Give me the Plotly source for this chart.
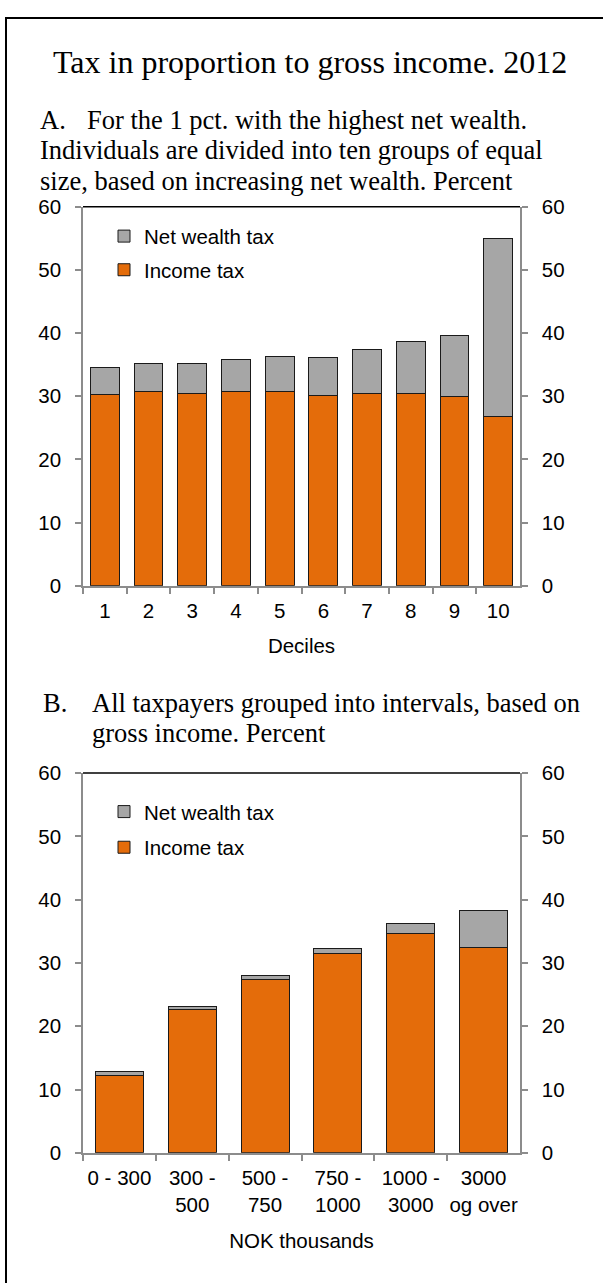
import plotly.graph_objects as go

# ---------------- data ----------------
deciles = ["1", "2", "3", "4", "5", "6", "7", "8", "9", "10"]
income_tax_a = [30.3, 30.8, 30.5, 30.7, 30.8, 30.1, 30.5, 30.5, 29.9, 26.8]
wealth_tax_a = [4.2, 4.4, 4.7, 5.1, 5.5, 6.1, 6.9, 8.1, 9.7, 28.2]

intervals = ["0 - 300", "300 -<br>500", "500 -<br>750", "750 -<br>1000",
             "1000 -<br>3000", "3000<br>og over"]
income_tax_b = [12.2, 22.6, 27.4, 31.5, 34.6, 32.5]
wealth_tax_b = [0.6, 0.5, 0.6, 0.8, 1.7, 5.8]

yticks = [0, 10, 20, 30, 40, 50, 60]

# ---------------- styling ----------------
W, H = 603, 1283
ORANGE = "#E46C0A"
GREY = "#A6A6A6"
AXIS = "#8C8C8C"
SANS = "Liberation Sans"
SERIF = "Liberation Serif"
FS = 20.5


def px(x):
    return x / W


def py(y):
    return 1 - y / H


xdom = [px(83), px(520)]
ydom_a = [py(584.3), py(198.3)]
ydom_b = [py(1161.7), py(775)]

fig = go.Figure()

bar_line = dict(color="#1a1a1a", width=1)

fig.add_trace(go.Bar(x=deciles, y=income_tax_a, name="Income tax",
                     marker=dict(color=ORANGE, line=bar_line), legendrank=2,
                     xaxis="x", yaxis="y", legend="legend", legendgroup="inc"))
fig.add_trace(go.Bar(x=deciles, y=wealth_tax_a, name="Net wealth tax",
                     marker=dict(color=GREY, line=bar_line), legendrank=1,
                     xaxis="x", yaxis="y", legend="legend", legendgroup="nw"))
fig.add_trace(go.Bar(x=intervals, y=income_tax_b, name="Income tax",
                     marker=dict(color=ORANGE, line=bar_line), legendrank=2,
                     xaxis="x2", yaxis="y3", legend="legend2", legendgroup="inc"))
fig.add_trace(go.Bar(x=intervals, y=wealth_tax_b, name="Net wealth tax",
                     marker=dict(color=GREY, line=bar_line), legendrank=1,
                     xaxis="x2", yaxis="y3", legend="legend2", legendgroup="nw"))

tickfont = dict(family=SANS, size=FS, color="black")


def xax(anchor, title, ncat, standoff):
    return dict(domain=xdom, anchor=anchor, type="category", tickson="boundaries",
                ticks="outside", ticklen=6, tickwidth=1.5, tickcolor=AXIS,
                showline=True, linecolor=AXIS, linewidth=1.5, showgrid=False,
                zeroline=False, tickfont=tickfont, range=[-0.5, ncat - 0.5],
                ticklabelstandoff=6, tickangle=0,
                title=dict(text=title, font=dict(family=SANS, size=FS, color="black"),
                           standoff=standoff))


def yax(dom, anchor, side="left", overlaying=None):
    d = dict(domain=dom, anchor=anchor, range=[0, 60], tickvals=yticks,
             ticks="outside", ticklen=6, tickwidth=1.5, tickcolor=AXIS,
             showline=True, linecolor=AXIS, linewidth=1.5, showgrid=False,
             zeroline=False, tickfont=tickfont, side=side, ticklabelstandoff=10)
    if overlaying:
        d["overlaying"] = overlaying
    return d


legend_common = dict(bgcolor="rgba(0,0,0,0)", borderwidth=0,
                     font=dict(family=SANS, size=FS, color="black"),
                     traceorder="grouped",
                     xanchor="left", yanchor="top", itemwidth=30)

fig.update_layout(
    width=W, height=H, autosize=False,
    margin=dict(l=0, r=0, t=0, b=0),
    paper_bgcolor="white", plot_bgcolor="white",
    font=dict(family=SANS, size=FS, color="black"),
    barmode="stack", bargap=0.34,
    xaxis=xax("y", "Deciles", len(deciles), 17),
    xaxis2=xax("y3", "NOK thousands", len(intervals), 19),
    yaxis=yax(ydom_a, "x"),
    yaxis2=yax(ydom_a, "x", "right", "y"),
    yaxis3=yax(ydom_b, "x2"),
    yaxis4=yax(ydom_b, "x2", "right", "y3"),
    legend=dict(x=px(104), y=py(208), tracegroupgap=4, **legend_common),
    legend2=dict(x=px(104), y=py(794), tracegroupgap=6, **legend_common),
    showlegend=True,
)

# invisible traces so the right-hand axes are drawn
fig.add_trace(go.Scatter(x=[deciles[0]], y=[0], xaxis="x", yaxis="y2",
                         mode="markers", marker=dict(opacity=0), showlegend=False,
                         hoverinfo="skip"))
fig.add_trace(go.Scatter(x=[intervals[0]], y=[0], xaxis="x2", yaxis="y4",
                         mode="markers", marker=dict(opacity=0), showlegend=False,
                         hoverinfo="skip"))

# plot-area top borders and outer frame
shapes = [
    dict(type="line", xref="x domain", yref="y domain", x0=0, x1=1, y0=1, y1=1,
         line=dict(color="black", width=1.5)),
    dict(type="line", xref="x2 domain", yref="y3 domain", x0=0, x1=1, y0=1, y1=1,
         line=dict(color="black", width=1.5)),
    dict(type="rect", xref="paper", yref="paper", x0=px(6), x1=1.05,
         y0=-0.05, y1=py(6), line=dict(color="black", width=2),
         fillcolor="rgba(0,0,0,0)"),
]
fig.update_layout(shapes=shapes)

serif = lambda s: dict(family=SERIF, size=s, color="black")
ann = []
ann.append(dict(text="Tax in proportion to gross income. 2012", x=px(310), y=py(51),
                xanchor="center", yanchor="middle", font=serif(32)))
TS = 26.5
ann.append(dict(text="A.", x=px(38), y=py(110), xanchor="left", yanchor="middle", font=serif(TS)))
ann.append(dict(text="For the 1 pct. with the highest net wealth.", x=px(85), y=py(110),
                xanchor="left", yanchor="middle", font=serif(TS)))
ann.append(dict(text="Individuals are divided into ten groups of equal", x=px(38), y=py(141),
                xanchor="left", yanchor="middle", font=serif(TS)))
ann.append(dict(text="size, based on increasing net wealth. Percent", x=px(38), y=py(172),
                xanchor="left", yanchor="middle", font=serif(TS)))
ann.append(dict(text="B.", x=px(41), y=py(704), xanchor="left", yanchor="middle", font=serif(TS)))
ann.append(dict(text="All taxpayers grouped into intervals, based on", x=px(90), y=py(704),
                xanchor="left", yanchor="middle", font=serif(TS)))
ann.append(dict(text="gross income. Percent", x=px(90), y=py(734),
                xanchor="left", yanchor="middle", font=serif(TS)))
for a in ann:
    a.update(xref="paper", yref="paper", showarrow=False)
fig.update_layout(annotations=ann)

fig.write_html("out.html", config={"responsive": False, "displayModeBar": False},
               post_script="document.body.style.margin='0';document.body.style.padding='0';")
